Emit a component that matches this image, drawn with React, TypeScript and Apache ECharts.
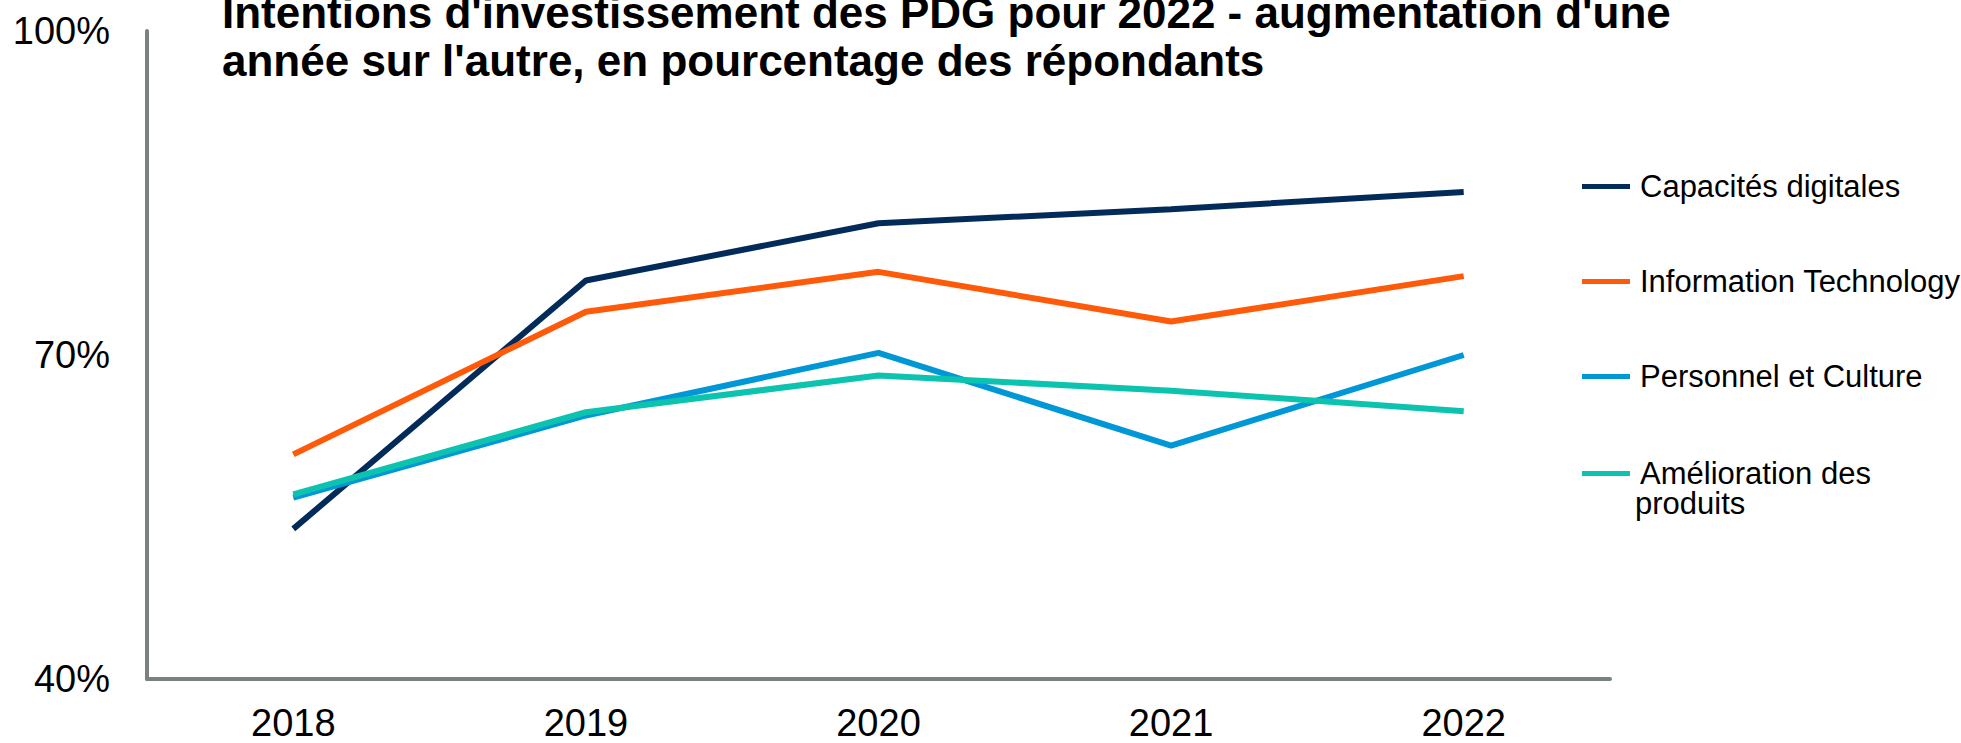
import React, { useEffect, useRef } from "react";
import * as echarts from "echarts";

const years = ["2018", "2019", "2020", "2021", "2022"];
const capacitesDigitales = [53.9, 76.9, 82.2, 83.5, 85.1];
const informationTechnology = [60.8, 74.0, 77.7, 73.1, 77.3];
const personnelCulture = [56.8, 64.4, 70.2, 61.6, 70.0];
const ameliorationProduits = [57.1, 64.7, 68.1, 66.7, 64.8];

const seriesNames = [
  "Capacités digitales",
  "Information Technology",
  "Personnel et Culture",
  "Amélioration des produits",
];
const colors = ["#032B59", "#FF5A0A", "#0097D7", "#0CC3AF"];
const titleText =
  "Intentions d'investissement des PDG pour 2022 - augmentation d'une\nannée sur l'autre, en pourcentage des répondants";

const FONT = "'Liberation Sans', Arial, Helvetica, sans-serif";
const AXIS_GRAY = "#7A8281";

export default function App() {
  const ref = useRef<HTMLDivElement>(null);

  useEffect(() => {
    if (!ref.current) return;
    const chart = echarts.init(ref.current, null, { renderer: "svg" });
    const values = [
      capacitesDigitales,
      informationTechnology,
      personnelCulture,
      ameliorationProduits,
    ];
    chart.setOption({
      animation: false,
      backgroundColor: "#ffffff",
      textStyle: { fontFamily: FONT },
      title: {
        text: titleText,
        left: 222,
        top: -12,
        padding: 0,
        textStyle: {
          fontFamily: FONT,
          fontSize: 44,
          fontWeight: "bold",
          color: "#000000",
          lineHeight: 48,
        },
      },
      legend: [
        {
          orient: "vertical",
          left: 1577,
          top: 166,
          itemWidth: 48,
          itemHeight: 5,
          itemGap: 64,
          icon: "rect",
          selectedMode: false,
          data: seriesNames.slice(0, 3),
          textStyle: {
            fontFamily: FONT,
            fontSize: 31,
            lineHeight: 31,
            color: "#000000",
            padding: [0, 0, 0, 5],
          },
        },
        {
          orient: "vertical",
          left: 1577,
          top: 423,
          itemWidth: 48,
          itemHeight: 5,
          icon: "rect",
          selectedMode: false,
          data: [seriesNames[3]],
          formatter: () => "\n{a|Amélioration des}\n{b|produits}",
          textStyle: {
            fontFamily: FONT,
            fontSize: 31,
            lineHeight: 30,
            color: "#000000",
            rich: {
              a: {
                fontFamily: FONT,
                fontSize: 31,
                lineHeight: 30,
                color: "#000000",
                padding: [0, 0, 0, 5],
              },
              b: {
                fontFamily: FONT,
                fontSize: 31,
                lineHeight: 30,
                color: "#000000",
              },
            },
          },
        },
      ],
      grid: { left: 147, right: 351, top: 31, bottom: 64, containLabel: false },
      xAxis: {
        type: "category",
        data: years,
        boundaryGap: true,
        axisLine: { show: true, lineStyle: { color: AXIS_GRAY, width: 4 } },
        axisTick: { show: false },
        axisLabel: {
          fontFamily: FONT,
          fontSize: 38,
          color: "#000000",
          margin: 25,
        },
        splitLine: { show: false },
      },
      yAxis: {
        type: "value",
        min: 40,
        max: 100,
        interval: 30,
        axisLine: { show: true, lineStyle: { color: AXIS_GRAY, width: 4 } },
        axisTick: { show: false },
        splitLine: { show: false },
        axisLabel: {
          fontFamily: FONT,
          fontSize: 38,
          color: "#000000",
          margin: 37,
          formatter: (v: number) => `${v}%`,
        },
      },
      series: seriesNames.map((name, i) => ({
        name,
        type: "line",
        data: values[i],
        symbol: "none",
        color: colors[i],
        lineStyle: { color: colors[i], width: 6 },
        itemStyle: { color: colors[i] },
        z: 2 + i,
      })),
    });
    return () => chart.dispose();
  }, []);

  return (
    <div
      ref={ref}
      style={{ position: "absolute", left: 0, top: 0, width: 1961, height: 743 }}
    />
  );
}
